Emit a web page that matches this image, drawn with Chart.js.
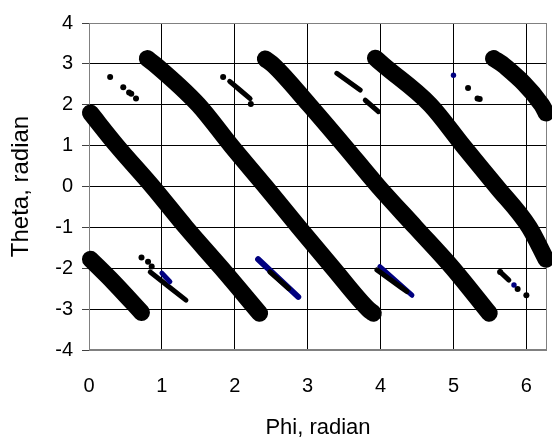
<!DOCTYPE html>
<html>
<head>
<meta charset="utf-8">
<script src="https://cdn.jsdelivr.net/npm/chart.js@4.4.1/dist/chart.umd.min.js"></script>
<style>
  html, body { margin: 0; padding: 0; background: #fff; }
  #wrap { width: 552px; height: 441px; }
</style>
</head>
<body>
<div id="wrap"><canvas id="myChart" width="552" height="441"></canvas></div>
<script>
// axis ranges / ticks
const phiMin = 0;
const phiMax = 6.283;
const thetaMin = -4;
const thetaMax = 4;

// big black bands, [phi, theta] read along their centre
const bandA = [[0.02, -1.78], [0.33, -2.33], [0.72, -3.08]];
const bandB = [[0.02, 1.8], [0.38, 1.0], [0.87, 0.0], [1.33, -1.0], [1.82, -2.0], [2.34, -3.1]];
const bandC = [[0.80, 3.13], [0.93, 2.95], [1.50, 2.0], [1.95, 1.0], [2.42, 0.0], [2.88, -1.0], [3.35, -2.0], [3.83, -3.0], [3.90, -3.1]];
const bandD = [[2.42, 3.12], [2.53, 2.97], [3.02, 2.0], [3.50, 1.0], [3.97, 0.0], [4.48, -1.0], [4.99, -2.0], [5.49, -3.1]];
const bandE = [[3.93, 3.14], [4.04, 2.97], [4.68, 2.0], [5.13, 1.0], [5.59, 0.0], [6.04, -1.0], [6.27, -1.78]];
const bandF = [[5.55, 3.13], [5.70, 2.95], [6.21, 2.0], [6.27, 1.8]];

// small marks
const blackDots = [[0.29, 2.68], [0.47, 2.43], [0.55, 2.30], [0.58, 2.27], [0.645, 2.15],
  [1.84, 2.68], [2.22, 2.02], [5.20, 2.41], [5.33, 2.15], [5.36, 2.14],
  [0.72, -1.74], [0.81, -1.84], [0.86, -1.96], [5.64, -2.09], [5.88, -2.51], [6.0, -2.66]];
const navyDots = [[5.0, 2.72], [5.83, -2.41]];

const blackTrails = [
  [[1.93, 2.57], [2.21, 2.15]],
  [[3.40, 2.77], [3.72, 2.36]],
  [[3.79, 2.11], [3.97, 1.83]],
  [[0.84, -2.09], [1.33, -2.78]],
  [[2.48, -2.09], [2.74, -2.5]],
  [[3.95, -2.04], [4.36, -2.57]],
  [[5.64, -2.09], [5.76, -2.29]]
];
const navyTrails = [
  [[1.0, -2.12], [1.11, -2.33]],
  [[2.32, -1.78], [2.87, -2.70]],
  [[3.99, -1.96], [4.43, -2.66]]
];

const BLACK = '#000000';
const NAVY = '#000080';
const FRAME = '#808080';

function toXY(pts){
  return pts.map(p => ({x: p[0], y: p[1]}));
}

function lineSet(pts, color, width, order){
  return {
    data: toXY(pts),
    showLine: true,
    borderColor: color,
    backgroundColor: color,
    borderWidth: width,
    borderCapStyle: 'round',
    borderJoinStyle: 'round',
    pointRadius: 0,
    cubicInterpolationMode: 'monotone',
    clip: false,
    order: order
  };
}

function dotSet(pts, color, r, order){
  return {
    data: toXY(pts),
    showLine: false,
    borderWidth: 0,
    backgroundColor: color,
    pointRadius: r,
    pointHoverRadius: r,
    clip: false,
    order: order
  };
}

let datasets = [];
[bandA, bandB, bandC, bandD, bandE, bandF].forEach(b => datasets.push(lineSet(b, BLACK, 17, 5)));
navyTrails.forEach((t, i) => datasets.push(lineSet(t, NAVY, i == 1 ? 6 : 5, i == 0 ? 1 : 3)));
blackTrails.forEach(t => datasets.push(lineSet(t, BLACK, 5, 2)));
datasets.push(dotSet(blackDots, BLACK, 3, 2));
datasets.push(dotSet(navyDots, NAVY, 2.7, 1));

// grey frame round the plot area
const framePlugin = {
  id: 'frame',
  beforeDatasetsDraw(chart){
    const a = chart.chartArea;
    const c = chart.ctx;
    c.save();
    c.strokeStyle = FRAME;
    c.lineWidth = 1;
    c.strokeRect(Math.round(a.left) + 0.5, Math.round(a.top) + 0.5, Math.round(a.right - a.left) - 1, Math.round(a.bottom - a.top) - 1);
    c.restore();
  }
};

const tickFont = {family: "'Liberation Sans', Arial, sans-serif", size: 20};

new Chart(document.getElementById('myChart'), {
  type: 'scatter',
  data: { datasets: datasets },
  options: {
    responsive: false,
    animation: false,
    layout: { padding: {top: 23, right: 5, left: 0, bottom: 0} },
    plugins: { legend: {display: false}, tooltip: {enabled: false} },
    scales: {
      x: {
        type: 'linear',
        min: phiMin,
        max: phiMax,
        afterFit: scale => {
          scale.height = 91;
          scale.paddingLeft = 0;
          scale.paddingRight = 0;
        },
        ticks: { stepSize: 1, includeBounds: false, color: BLACK, font: tickFont, padding: 24, maxRotation: 0 },
        grid: { color: BLACK, lineWidth: 1, drawTicks: false },
        border: { display: false },
        title: {
          display: true,
          text: 'Phi, radian',
          color: BLACK,
          font: {family: "'Liberation Sans', Arial, sans-serif", size: 22},
          padding: {top: 0, bottom: 0}
        }
      },
      y: {
        type: 'linear',
        min: thetaMin,
        max: thetaMax,
        afterFit: scale => { scale.width = 89; },
        ticks: { stepSize: 1, color: BLACK, font: tickFont, padding: 9 },
        grid: {
          color: ctx => (ctx.tick && (ctx.tick.value == thetaMax || ctx.tick.value == thetaMin)) ? FRAME : BLACK,
          lineWidth: 1,
          tickLength: 7,
          tickColor: '#404040'
        },
        border: { display: false },
        title: {
          display: true,
          text: 'Theta, radian',
          color: BLACK,
          font: {family: "'Liberation Sans', Arial, sans-serif", size: 24},
          padding: {top: 7, bottom: 0}
        }
      }
    }
  },
  plugins: [framePlugin]
});
</script>
</body>
</html>
